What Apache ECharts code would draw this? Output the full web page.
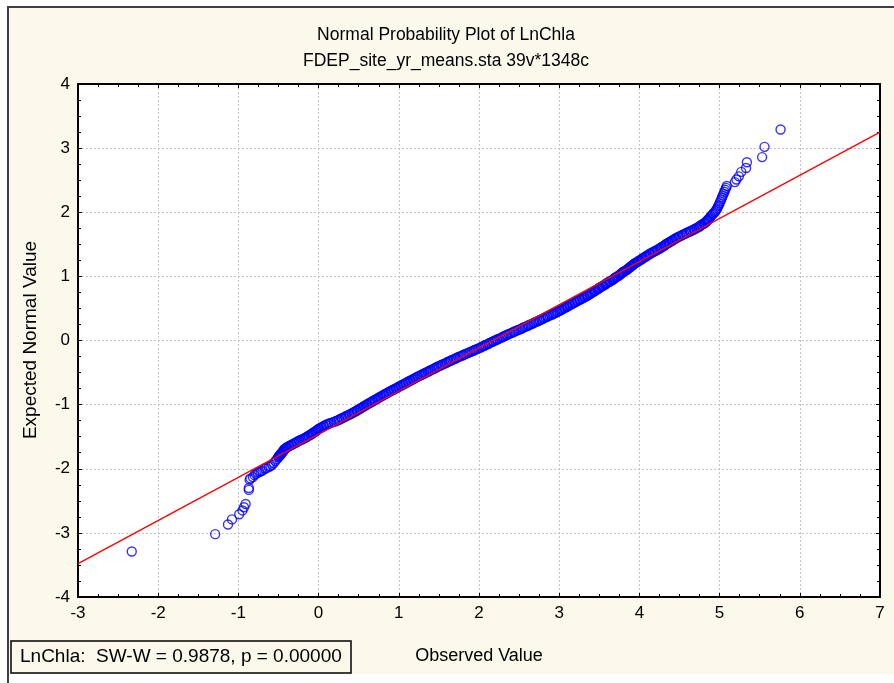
<!DOCTYPE html>
<html>
<head>
<meta charset="utf-8">
<script src="https://cdn.jsdelivr.net/npm/echarts@6/dist/echarts.min.js"></script>
<style>
html,body{margin:0;padding:0;background:#fff;}
#chart{width:894px;height:683px;}
</style>
</head>
<body>
<div id="chart"></div>
<script>
var titleText = 'Normal Probability Plot of LnChla';
var subtitleText = 'FDEP_site_yr_means.sta 39v*1348c';
var xAxisTitle = 'Observed Value';
var yAxisTitle = 'Expected Normal Value';
var statText = 'LnChla:  SW-W = 0.9878, p = 0.00000';

var xTicks = [-3, 7, 1];   // min, max, step
var yTicks = [-4, 4, 1];

var fitLineX = [-3, 7];
var fitLineY = [-3.48, 3.25];

var lowTail = [
 [-2.33,-3.29],[-1.29,-3.02],[-1.13,-2.87],[-1.08,-2.79],[-0.99,-2.71],[-0.95,-2.65],
 [-0.93,-2.60],[-0.91,-2.55],[-0.87,-2.33],[-0.87,-2.30],[-0.86,-2.17],[-0.85,-2.15],
 [-0.82,-2.13],[-0.80,-2.10],[-0.78,-2.08],[-0.76,-2.06],[-0.74,-2.05],[-0.72,-2.04],
 [-0.70,-2.03],[-0.67,-2.00],[-0.65,-1.99],[-0.62,-1.97],[-0.60,-1.96],[-0.58,-1.94],
 [-0.56,-1.91],[-0.54,-1.88],[-0.52,-1.85],[-0.50,-1.82]
];

var body = [
 [-0.50,-1.81],[-0.49,-1.80],[-0.48,-1.79],[-0.48,-1.78],[-0.47,-1.77],[-0.46,-1.76],[-0.46,-1.75],[-0.45,-1.74],[-0.44,-1.73],[-0.44,-1.72],
 [-0.43,-1.71],[-0.43,-1.70],[-0.42,-1.69],[-0.41,-1.68],[-0.40,-1.67],[-0.39,-1.66],[-0.37,-1.65],[-0.36,-1.64],[-0.34,-1.63],[-0.33,-1.62],
 [-0.31,-1.61],[-0.30,-1.60],[-0.28,-1.59],[-0.27,-1.58],[-0.25,-1.57],[-0.24,-1.56],[-0.22,-1.55],[-0.20,-1.54],[-0.19,-1.53],[-0.17,-1.52],
 [-0.16,-1.51],[-0.14,-1.50],[-0.13,-1.49],[-0.12,-1.48],[-0.10,-1.47],[-0.09,-1.46],[-0.08,-1.45],[-0.07,-1.44],[-0.06,-1.43],[-0.04,-1.42],
 [-0.03,-1.41],[-0.02,-1.40],[-0.01,-1.39],[0.00,-1.38],[0.01,-1.37],[0.03,-1.36],[0.04,-1.35],[0.06,-1.34],[0.07,-1.33],[0.09,-1.32],
 [0.10,-1.31],[0.12,-1.30],[0.14,-1.29],[0.16,-1.28],[0.19,-1.27],[0.21,-1.26],[0.23,-1.25],[0.25,-1.24],[0.26,-1.23],[0.28,-1.22],
 [0.29,-1.21],[0.31,-1.20],[0.33,-1.19],[0.34,-1.18],[0.36,-1.17],[0.38,-1.16],[0.39,-1.15],[0.41,-1.14],[0.42,-1.13],[0.44,-1.12],
 [0.45,-1.11],[0.47,-1.10],[0.48,-1.09],[0.49,-1.08],[0.51,-1.07],[0.52,-1.06],[0.53,-1.05],[0.55,-1.04],[0.56,-1.03],[0.57,-1.02],
 [0.59,-1.01],[0.60,-1.00],[0.61,-0.99],[0.63,-0.98],[0.64,-0.97],[0.66,-0.96],[0.67,-0.95],[0.68,-0.94],[0.70,-0.93],[0.71,-0.92],
 [0.73,-0.91],[0.74,-0.90],[0.75,-0.89],[0.77,-0.88],[0.78,-0.87],[0.80,-0.86],[0.81,-0.85],[0.82,-0.84],[0.84,-0.83],[0.85,-0.82],
 [0.87,-0.81],[0.88,-0.80],[0.90,-0.79],[0.91,-0.78],[0.93,-0.77],[0.94,-0.76],[0.96,-0.75],[0.97,-0.74],[0.99,-0.73],[1.00,-0.72],
 [1.02,-0.71],[1.03,-0.70],[1.05,-0.69],[1.06,-0.68],[1.08,-0.67],[1.09,-0.66],[1.11,-0.65],[1.12,-0.64],[1.14,-0.63],[1.15,-0.62],
 [1.17,-0.61],[1.18,-0.60],[1.20,-0.59],[1.21,-0.58],[1.23,-0.57],[1.24,-0.56],[1.26,-0.55],[1.28,-0.54],[1.29,-0.53],[1.31,-0.52],
 [1.32,-0.51],[1.34,-0.50],[1.36,-0.49],[1.37,-0.48],[1.39,-0.47],[1.40,-0.46],[1.42,-0.45],[1.44,-0.44],[1.45,-0.43],[1.47,-0.42],
 [1.48,-0.41],[1.50,-0.40],[1.52,-0.39],[1.53,-0.38],[1.55,-0.37],[1.57,-0.36],[1.59,-0.35],[1.60,-0.34],[1.62,-0.33],[1.64,-0.32],
 [1.65,-0.31],[1.67,-0.30],[1.69,-0.29],[1.71,-0.28],[1.72,-0.27],[1.74,-0.26],[1.76,-0.25],[1.78,-0.24],[1.80,-0.23],[1.81,-0.22],
 [1.83,-0.21],[1.85,-0.20],[1.87,-0.19],[1.89,-0.18],[1.91,-0.17],[1.93,-0.16],[1.94,-0.15],[1.96,-0.14],[1.98,-0.13],[2.00,-0.12],
 [2.02,-0.11],[2.03,-0.10],[2.05,-0.09],[2.07,-0.08],[2.08,-0.07],[2.10,-0.06],[2.12,-0.05],[2.13,-0.04],[2.15,-0.03],[2.17,-0.02],
 [2.18,-0.01],[2.20,0.00],[2.22,0.01],[2.23,0.02],[2.25,0.03],[2.27,0.04],[2.29,0.05],[2.30,0.06],[2.32,0.07],[2.34,0.08],
 [2.35,0.09],[2.37,0.10],[2.39,0.11],[2.41,0.12],[2.43,0.13],[2.44,0.14],[2.46,0.15],[2.48,0.16],[2.50,0.17],[2.52,0.18],
 [2.54,0.19],[2.55,0.20],[2.57,0.21],[2.59,0.22],[2.61,0.23],[2.62,0.24],[2.64,0.25],[2.66,0.26],[2.68,0.27],[2.69,0.28],
 [2.71,0.29],[2.73,0.30],[2.75,0.31],[2.76,0.32],[2.78,0.33],[2.80,0.34],[2.81,0.35],[2.83,0.36],[2.85,0.37],[2.86,0.38],
 [2.88,0.39],[2.90,0.40],[2.92,0.41],[2.93,0.42],[2.95,0.43],[2.97,0.44],[2.98,0.45],[3.00,0.46],[3.01,0.47],[3.03,0.48],
 [3.04,0.49],[3.06,0.50],[3.07,0.51],[3.09,0.52],[3.10,0.53],[3.11,0.54],[3.13,0.55],[3.14,0.56],[3.16,0.57],[3.17,0.58],
 [3.19,0.59],[3.20,0.60],[3.22,0.61],[3.23,0.62],[3.25,0.63],[3.26,0.64],[3.28,0.65],[3.29,0.66],[3.31,0.67],[3.32,0.68],
 [3.34,0.69],[3.35,0.70],[3.36,0.71],[3.38,0.72],[3.39,0.73],[3.40,0.74],[3.41,0.75],[3.43,0.76],[3.44,0.77],[3.45,0.78],
 [3.46,0.79],[3.48,0.80],[3.49,0.81],[3.50,0.82],[3.51,0.83],[3.53,0.84],[3.54,0.85],[3.55,0.86],[3.57,0.87],[3.58,0.88],
 [3.59,0.89],[3.60,0.90],[3.62,0.91],[3.63,0.92],[3.64,0.93],[3.66,0.94],[3.67,0.95],[3.68,0.96],[3.69,0.97],[3.70,0.98],
 [3.71,0.99],[3.73,1.00],[3.74,1.01],[3.75,1.02],[3.76,1.03],[3.77,1.04],[3.78,1.05],[3.79,1.06],[3.80,1.07],[3.81,1.08],
 [3.83,1.09],[3.84,1.10],[3.85,1.11],[3.86,1.12],[3.87,1.13],[3.88,1.14],[3.89,1.15],[3.90,1.16],[3.91,1.17],[3.92,1.18],
 [3.93,1.19],[3.94,1.20],[3.95,1.21],[3.97,1.22],[3.98,1.23],[3.99,1.24],[4.00,1.25],[4.02,1.26],[4.03,1.27],[4.04,1.28],
 [4.05,1.29],[4.07,1.30],[4.08,1.31],[4.09,1.32],[4.10,1.33],[4.12,1.34],[4.13,1.35],[4.14,1.36],[4.16,1.37],[4.17,1.38],
 [4.19,1.39],[4.20,1.40],[4.22,1.41],[4.23,1.42],[4.25,1.43],[4.26,1.44],[4.27,1.45],[4.28,1.46],[4.30,1.47],[4.31,1.48],
 [4.32,1.49],[4.33,1.50],[4.34,1.51],[4.36,1.52],[4.37,1.53],[4.38,1.54],[4.40,1.55],[4.41,1.56],[4.42,1.57],[4.44,1.58],
 [4.45,1.59],[4.46,1.60],[4.48,1.61],[4.49,1.62],[4.51,1.63],[4.53,1.64],[4.54,1.65],[4.56,1.66],[4.58,1.67],[4.59,1.68],
 [4.61,1.69],[4.63,1.70],[4.64,1.71],[4.66,1.72],[4.68,1.73],[4.69,1.74],[4.71,1.75],[4.72,1.76],[4.74,1.77],[4.75,1.78],
 [4.76,1.79],[4.77,1.80],[4.78,1.81],[4.80,1.82],[4.81,1.83],[4.82,1.84],[4.83,1.85],[4.84,1.86],[4.85,1.87],[4.85,1.88],
 [4.86,1.89],[4.87,1.90]
];

var highTail = [
 [4.88,1.92],[4.89,1.94],[4.91,1.96],[4.92,1.98],[4.94,2.00],[4.95,2.02],[4.96,2.04],[4.97,2.06],
 [4.98,2.09],[4.99,2.11],[5.00,2.14],[5.01,2.17],[5.02,2.20],[5.03,2.23],[5.04,2.26],[5.05,2.29],
 [5.06,2.32],[5.07,2.35],[5.08,2.38],[5.09,2.41],[5.19,2.47],[5.21,2.51],[5.24,2.56],[5.27,2.63],
 [5.33,2.69],[5.34,2.78],[5.53,2.86],[5.56,3.02],[5.76,3.29]
];

// ---- chart ----
var FONT = "'Liberation Sans', Arial, sans-serif";
var chart = echarts.init(document.getElementById('chart'), null, {renderer: 'canvas'});

function axisBase(minV, maxV, step, pos, labels) {
  return {
    type: 'value', position: pos, min: minV, max: maxV, interval: step,
    axisLine: {show: true, onZero: false, lineStyle: {color: '#000', width: 2}},
    axisTick: {show: true, inside: true, length: 4, lineStyle: {color: '#000', width: 1}},
    minorTick: {show: true, splitNumber: 4, length: 3, lineStyle: {color: '#000', width: 1}},
    splitLine: {show: labels, lineStyle: {color: '#c4c4c4', width: 1, type: [2, 2]}},
    minorSplitLine: {show: false},
    axisLabel: {show: labels, margin: 8, fontSize: 17, color: '#000', fontFamily: FONT}
  };
}

var points = lowTail.concat(body, highTail);
var fitLine = fitLineX.map(function (x, i) { return [x, fitLineY[i]]; });

chart.setOption({
  backgroundColor: '#ffffff',
  animation: false,
  grid: {left: 78, right: 14, top: 84, bottom: 86, show: true, backgroundColor: '#ffffff', borderWidth: 0},
  xAxis: [axisBase(xTicks[0], xTicks[1], xTicks[2], 'bottom', true),
          axisBase(xTicks[0], xTicks[1], xTicks[2], 'top', false)],
  yAxis: [axisBase(yTicks[0], yTicks[1], yTicks[2], 'left', true),
          axisBase(yTicks[0], yTicks[1], yTicks[2], 'right', false)],
  series: [
    {
      type: 'scatter', data: points, symbol: 'circle', symbolSize: 9,
      itemStyle: {color: 'rgba(0,0,0,0)', borderColor: '#0000ff', borderWidth: 1.4},
      z: 2, silent: true
    },
    {
      type: 'line', data: fitLine, symbol: 'none',
      lineStyle: {color: '#ff0000', width: 1.3}, z: 3, silent: true
    }
  ],
  graphic: [
    {type: 'rect', z: -10, shape: {x: 8, y: 8, width: 886, height: 666}, style: {fill: '#fdf8ec'}},
    {type: 'line', z: 10, shape: {x1: 7, y1: 7, x2: 894, y2: 7}, style: {stroke: '#404040', lineWidth: 2}},
    {type: 'line', z: 10, shape: {x1: 8, y1: 7, x2: 8, y2: 683}, style: {stroke: '#404040', lineWidth: 2}},
    {type: 'text', z: 10, x: 446, y: 35, style: {text: titleText, fill: '#000', font: '17.5px ' + FONT, textAlign: 'center', textVerticalAlign: 'middle'}},
    {type: 'text', z: 10, x: 446, y: 61, style: {text: subtitleText, fill: '#000', font: '17.5px ' + FONT, textAlign: 'center', textVerticalAlign: 'middle'}},
    {type: 'text', z: 10, x: 479, y: 656, style: {text: xAxisTitle, fill: '#000', font: '18px ' + FONT, textAlign: 'center', textVerticalAlign: 'middle'}},
    {type: 'text', z: 10, x: 31, y: 340, rotation: Math.PI / 2, style: {text: yAxisTitle, fill: '#000', font: '19px ' + FONT, textAlign: 'center', textVerticalAlign: 'middle'}},
    {type: 'rect', z: 10, shape: {x: 11, y: 641, width: 340, height: 32}, style: {fill: 'rgba(0,0,0,0)', stroke: '#000', lineWidth: 1.5}},
    {type: 'text', z: 10, x: 20, y: 657, style: {text: statText, fill: '#000', font: '19px ' + FONT, textAlign: 'left', textVerticalAlign: 'middle'}}
  ]
});
</script>
</body>
</html>
